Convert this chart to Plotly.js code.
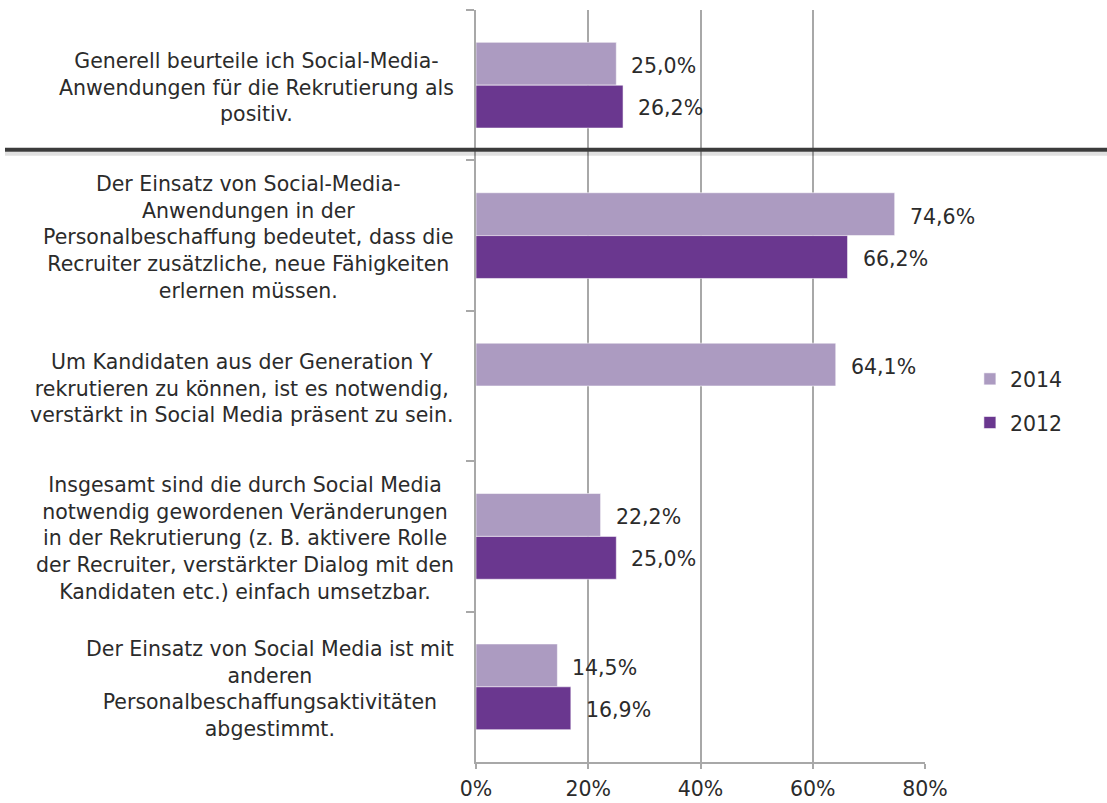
<!DOCTYPE html>
<html>
<head>
<meta charset="utf-8">
<script src="https://cdn.plot.ly/plotly-3.0.1.min.js"></script>
<style>html,body{margin:0;padding:0;background:#fff;}#chart{width:1107px;height:803px;}</style>
</head>
<body>
<div id="chart"></div>
<script>
// ---- data ----
const categories = [
  "Generell beurteile ich Social-Media-<br>Anwendungen für die Rekrutierung als<br>positiv.",
  "Der Einsatz von Social-Media-<br>Anwendungen in der<br>Personalbeschaffung bedeutet, dass die<br>Recruiter zusätzliche, neue Fähigkeiten<br>erlernen müssen.",
  "Um Kandidaten aus der Generation Y<br>rekrutieren zu können, ist es notwendig,<br>verstärkt in Social Media präsent zu sein.",
  "Insgesamt sind die durch Social Media<br>notwendig gewordenen Veränderungen<br>in der Rekrutierung (z. B. aktivere Rolle<br>der Recruiter, verstärkter Dialog mit den<br>Kandidaten etc.) einfach umsetzbar.",
  "Der Einsatz von Social Media ist mit<br>anderen<br>Personalbeschaffungsaktivitäten<br>abgestimmt."
];
const seriesNames = ["2014", "2012"];
const values2014 = [25.0, 74.6, 64.1, 22.2, 14.5];
const values2012 = [26.2, 66.2, null, 25.0, 16.9];
const xTickVals = [0, 20, 40, 60, 80];
const xTickText = ["0%", "20%", "40%", "60%", "80%"];

// ---- style ----
const FONT = "DejaVu Sans, Open Sans, sans-serif";
const FS = 20.5;
const TXT = "#2b2b2b";
const colors = ["#AC9BC1", "#6A378F"];
const fmt = v => v.toFixed(1).replace(".", ",") + "%";

const series = [values2014, values2012];
const traces = series.map((vals, i) => ({
  type: "bar",
  orientation: "h",
  name: seriesNames[i],
  legendgroup: seriesNames[i],
  x: vals,
  y: categories,
  marker: {color: colors[i], line: {color: "rgba(255,255,255,0.55)", width: 1}},
  hoverinfo: "x+name"
}));

const annotations = [];
categories.forEach((c, k) => {
  annotations.push({
    xref: "paper", yref: "y", x: 0, y: c, xanchor: "right", yanchor: "middle",
    xshift: -20, yshift: -2, text: c, showarrow: false, align: "center",
    font: {family: FONT, size: FS, color: TXT}
  });
});
series.forEach((vals, i) => {
  vals.forEach((v, k) => {
    if (v === null) return;
    annotations.push({
      xref: "x", yref: "y", x: v, y: categories[k], xanchor: "left", yanchor: "middle",
      xshift: 13, yshift: i === 0 ? 19 : -23, text: fmt(v), showarrow: false,
      font: {family: FONT, size: FS, color: TXT}
    });
  });
});

const layout = {
  width: 1107, height: 803,
  margin: {l: 476, r: 182, t: 10, b: 41, pad: 0},
  paper_bgcolor: "#fff", plot_bgcolor: "#fff",
  barmode: "group", bargap: 0.43, bargroupgap: 0,
  font: {family: FONT, size: FS, color: TXT},
  showlegend: true,
  legend: {
    x: 1.1, xanchor: "left", y: 0.48, yanchor: "middle",
    traceorder: "grouped", tracegroupgap: 14,
    font: {family: FONT, size: FS, color: TXT},
    bgcolor: "rgba(0,0,0,0)"
  },
  xaxis: {
    range: [0, 80], tickvals: xTickVals, ticktext: xTickText,
    showgrid: true, gridcolor: "#a8a8a8", gridwidth: 2,
    zeroline: false, showline: true, linecolor: "#a8a8a8", linewidth: 2,
    ticks: "outside", ticklen: 5, tickwidth: 2, tickcolor: "#a8a8a8",
    ticklabelstandoff: 2,
    tickfont: {family: FONT, size: FS, color: TXT}, fixedrange: true
  },
  yaxis: {
    type: "category", autorange: "reversed",
    showticklabels: false, showgrid: false, zeroline: false,
    showline: true, linecolor: "#a8a8a8", linewidth: 2,
    ticks: "outside", tickson: "boundaries", ticklen: 8, tickwidth: 2, tickcolor: "#a8a8a8",
    fixedrange: true
  },
  shapes: [
    {type: "line", xref: "paper", yref: "paper", x0: -1.049, x1: 1.41, y0: 0.809, y1: 0.809,
     line: {color: "rgba(0,0,0,0.12)", width: 4}},
    {type: "line", xref: "paper", yref: "paper", x0: -1.049, x1: 1.41, y0: 0.814, y1: 0.814,
     line: {color: "#3b3b3b", width: 4}}
  ],
  annotations: annotations
};

Plotly.newPlot("chart", traces, layout, {displayModeBar: false, staticPlot: true});
</script>
</body>
</html>
